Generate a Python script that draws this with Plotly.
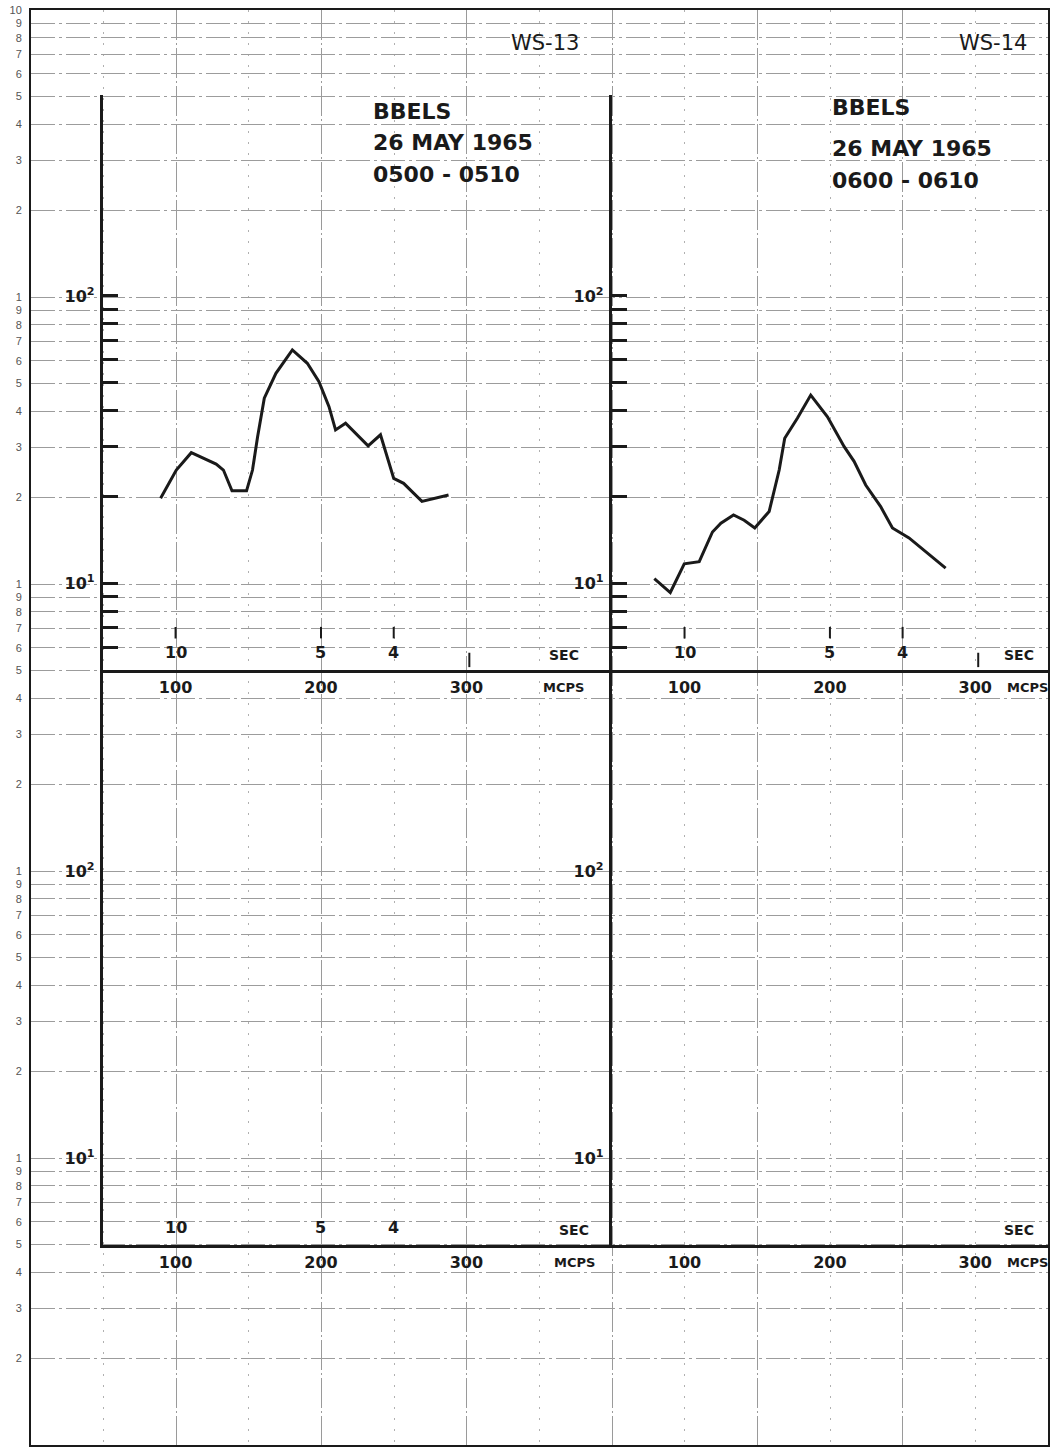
import math
import plotly.graph_objects as go

# ---------------- data ----------------
ws13_freq = [89.7, 100.5, 110.8, 118.7, 127.9, 132.9, 138.8, 148.8, 152.9, 156.4, 161.0,
             169.0, 180.3, 190.6, 198.6, 205.5, 210.0, 216.9, 223.8, 232.4, 240.9, 245.4,
             250.0, 256.8, 269.4, 287.7]
ws13_val = [19.8, 24.8, 28.5, 27.3, 26.0, 24.8, 21.0, 21.0, 24.8, 32.4, 44.1,
            53.8, 64.9, 58.3, 50.3, 41.2, 34.2, 36.1, 33.3, 30.1, 32.9, 27.6,
            23.2, 22.3, 19.3, 20.3]

ws14_freq = [79.2, 90.2, 99.8, 110.1, 119.2, 125.0, 133.7, 141.0, 148.3, 158.2, 165.1,
             168.9, 177.7, 186.8, 198.3, 209.8, 216.6, 224.6, 234.9, 243.0, 254.4, 279.6]
ws14_val = [10.4, 9.3, 11.7, 11.9, 15.1, 16.2, 17.3, 16.6, 15.6, 17.8, 24.8,
            32.0, 37.6, 45.2, 38.0, 29.9, 26.6, 22.0, 18.5, 15.6, 14.4, 11.3]

mcps_ticks = [100, 200, 300]
mcps_text = ["100", "200", "300"]
period_freq = [100, 200, 250]          # 10 s, 5 s, 4 s
period_text = ["10", "5", "4"]
panel_minor_ticks = [6, 7, 8, 9, 20, 30, 40, 50, 60, 70, 80, 90]
panel_label_ticks = [10, 100]
panel_label_text = ["10<sup>1</sup>", "10<sup>2</sup>"]
page_mantissa = [1, 2, 3, 4, 5, 6, 7, 8, 9]
page_decades = [0, 1, 2, 3, 4]

# ---------------- geometry ----------------
W, H = 1054, 1450
ML, MR, MT, MB = 31, 4, 10, 5
PW, PH = W - ML - MR, H - MT - MB


def pxx(x):
    return (x - ML) / PW


def pxy(y):
    return (H - MB - y) / PH


HAND = "DejaVu Sans"
INK = "#1a1a1a"

fig = go.Figure()

# background graph paper subplot
fig.add_trace(go.Scatter(x=[None], y=[None], xaxis="x", yaxis="y",
                         showlegend=False, hoverinfo="skip"))

page_vals = [m * 10 ** d for d in page_decades for m in page_mantissa] + [10 ** 5]
page_text = [str(m) for d in page_decades for m in page_mantissa] + ["10"]

fig.update_layout(
    xaxis=dict(domain=[0, 1], range=[0, 14], anchor="y", showticklabels=False,
               ticks="", showgrid=True, dtick=2, tick0=0, gridcolor="#9a9a9a",
               gridwidth=1, griddash="30px,3px,2px,3px", zeroline=False,
               showline=True, mirror=True, linecolor=INK, linewidth=2,
               minor=dict(dtick=1, tick0=0, showgrid=True, gridcolor="#b0b0b0",
                          gridwidth=1, griddash="2px,9px", ticks="")),
    yaxis=dict(domain=[0, 1], type="log", range=[0, 5], anchor="x",
               tickvals=page_vals, ticktext=page_text, ticks="",
               tickfont=dict(family="Liberation Sans", size=11, color="#555"),
               ticklabelstandoff=5,
               showgrid=True, gridcolor="#9c9c9c", gridwidth=1,
               griddash="24px,4px,3px,4px", zeroline=False,
               showline=True, mirror=True, linecolor=INK, linewidth=2),
)

# ---------------- panels ----------------
left_dom = [pxx(103), pxx(613)]
right_dom = [pxx(613), 1.0]
top_dom = [pxy(670), pxy(95)]
bot_dom = [pxy(1245), pxy(670)]

panels = [
    ("2", left_dom, top_dom, [50, 400], (ws13_freq, ws13_val), True),
    ("3", right_dom, top_dom, [50, 350], (ws14_freq, ws14_val), True),
    ("4", left_dom, bot_dom, [50, 400], None, False),
    ("5", right_dom, bot_dom, [50, 350], None, False),
]

ylog = [math.log10(5), math.log10(500)]

for name, xd, yd, xr, data, inner in panels:
    if data is not None:
        fig.add_trace(go.Scatter(x=data[0], y=data[1], mode="lines",
                                 line=dict(color=INK, width=3),
                                 xaxis="x" + name, yaxis="y" + name,
                                 showlegend=False, hoverinfo="skip"))
    else:
        fig.add_trace(go.Scatter(x=[None], y=[None], xaxis="x" + name,
                                 yaxis="y" + name, showlegend=False,
                                 hoverinfo="skip"))
    yaxis_cfg = dict(domain=yd, type="log", range=ylog, anchor="x" + name,
                     showgrid=False, zeroline=False, showline=True,
                     linecolor=INK, linewidth=3,
                     ticks="inside" if inner else "", ticklen=15,
                     tickwidth=3, tickcolor=INK,
                     tickvals=panel_label_ticks, ticktext=panel_label_text,
                     tickfont=dict(family=HAND, size=16, color=INK, weight="bold"),
                     ticklabelstandoff=2)
    if inner:
        yaxis_cfg["minor"] = dict(tickmode="array", tickvals=panel_minor_ticks,
                                  ticks="inside", ticklen=15, tickwidth=3,
                                  tickcolor=INK, showgrid=False)
    fig.update_layout({
        "xaxis" + name: dict(domain=xd, range=xr, anchor="y" + name,
                             showgrid=False, zeroline=False, showline=True,
                             linecolor=INK, linewidth=3, ticks="",
                             tickvals=mcps_ticks, ticktext=mcps_text,
                             tickfont=dict(family=HAND, size=16, color=INK,
                                           weight="bold"),
                             ticklabelstandoff=1),
        "yaxis" + name: yaxis_cfg,
    })

annotations = []
shapes = []


def hand(text, x, y, size, xref="paper", yref="paper", xanchor="center",
         yanchor="middle", yshift=0, bold=True):
    annotations.append(dict(text=text, x=x, y=y, xref=xref, yref=yref,
                            xanchor=xanchor, yanchor=yanchor, yshift=yshift,
                            showarrow=False,
                            font=dict(family=HAND, size=size, color=INK,
                                      weight="bold" if bold else "normal")))


# period labels (SEC) and MCPS unit labels
for name, with_periods, marks, sec_x, mcps_x in [
        ("2", True, True, 367, 367),
        ("3", True, True, 330, 336),
        ("4", True, False, 374, 374),
        ("5", False, False, 330, 336)]:
    xr = "x" + name
    yd = "y" + name + " domain"
    if with_periods:
        for f, t in zip(period_freq, period_text):
            hand(t, f, 0, 16, xref=xr, yref=yd, yanchor="bottom", yshift=6)
    hand("SEC", sec_x, 0, 14, xref=xr, yref=yd, yanchor="bottom", yshift=5)
    hand("MCPS", mcps_x, 0, 13, xref=xr, yref=yd, yanchor="top", yshift=-8)
    if marks:
        for f in period_freq:
            shapes.append(dict(type="line", xref=xr, yref=yd, x0=f, x1=f,
                               y0=0.055, y1=0.075, line=dict(color=INK, width=2)))
        shapes.append(dict(type="line", xref=xr, yref=yd, x0=302, x1=302,
                           y0=0.005, y1=0.03, line=dict(color=INK, width=2)))

# headings
hand("WS-13", pxx(546), pxy(43), 21, bold=False)
hand("WS-14", pxx(995), pxy(43), 21, bold=False)

for x0, lines in [(372, [("BBELS", 111), ("26 MAY 1965", 143), ("0500 - 0510", 174)]),
                  (832, [("BBELS", 107), ("26 MAY 1965", 149), ("0600 - 0610", 180)])]:
    for txt, yy in lines:
        hand(txt, pxx(x0), pxy(yy), 22, xanchor="left")

fig.update_layout(
    width=W, height=H, autosize=False,
    margin=dict(l=ML, r=MR, t=MT, b=MB, pad=0),
    paper_bgcolor="white", plot_bgcolor="rgba(0,0,0,0)",
    showlegend=False, annotations=annotations, shapes=shapes,
)

fig.write_html("out.html",
               config={"displayModeBar": False, "staticPlot": True},
               post_script="document.body.style.margin='0';"
                           "document.body.style.overflow='hidden';")
